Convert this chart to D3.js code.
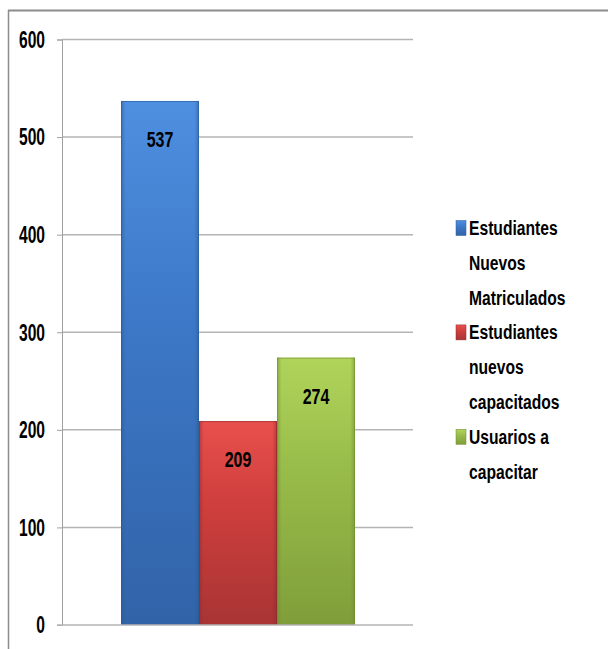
<!DOCTYPE html>
<html><head><meta charset="utf-8">
<script src="https://cdn.jsdelivr.net/npm/d3@7"></script>
<style>body{margin:0;background:#fff}svg{display:block}</style>
</head><body>
<svg id="c" width="608" height="649"></svg>
<script>
const categories = ["Estudiantes Nuevos Matriculados","Estudiantes nuevos capacitados","Usuarios a capacitar"];
const legendLines = [["Estudiantes","Nuevos","Matriculados"],["Estudiantes","nuevos","capacitados"],["Usuarios a","capacitar"]];
const values = [537,209,274];
const yTicks = [0,100,200,300,400,500,600];
const colors = [
  {top:"#4f8fe0", mid:"#3d79c8", bot:"#3163a8", edge:"#2c5a96"},
  {top:"#e8504d", mid:"#cf3f3d", bot:"#a83434", edge:"#8e2c2c"},
  {top:"#b0d45a", mid:"#99bd4a", bot:"#7f9e3a", edge:"#6f8a33"}
];
const svg = d3.select("#c");
const FONT = "'Liberation Sans',Arial,sans-serif";
const defs = svg.append("defs");
colors.forEach((c,i)=>{
  const g = defs.append("linearGradient").attr("id","g"+i).attr("x1",0).attr("y1",0).attr("x2",0).attr("y2",1);
  g.append("stop").attr("offset","0%").attr("stop-color",c.top);
  g.append("stop").attr("offset","40%").attr("stop-color",c.mid);
  g.append("stop").attr("offset","100%").attr("stop-color",c.bot);
  const h = defs.append("linearGradient").attr("id","h"+i).attr("x1",0).attr("y1",0).attr("x2",1).attr("y2",0);
  h.append("stop").attr("offset","0%").attr("stop-color",c.edge).attr("stop-opacity",0.55);
  h.append("stop").attr("offset","6%").attr("stop-color",c.edge).attr("stop-opacity",0);
  h.append("stop").attr("offset","94%").attr("stop-color",c.edge).attr("stop-opacity",0);
  h.append("stop").attr("offset","100%").attr("stop-color",c.edge).attr("stop-opacity",0.55);
});
// frame
svg.append("line").attr("x1",8).attr("x2",608).attr("y1",10.5).attr("y2",10.5).attr("stroke","#8c8c8c").attr("stroke-width",2);
svg.append("line").attr("x1",8.5).attr("x2",8.5).attr("y1",10).attr("y2",649).attr("stroke","#8c8c8c").attr("stroke-width",1.5);

const y = d3.scaleLinear().domain([0,600]).range([625,39.5]);
const x = d3.scaleBand().domain(categories).range([121,355]).paddingInner(0);
const plotL = 62, plotR = 413;

// gridlines
svg.append("g").selectAll("line").data(yTicks.filter(t=>t>0)).join("line")
  .attr("x1",plotL).attr("x2",plotR).attr("y1",d=>y(d)).attr("y2",d=>y(d))
  .attr("stroke","#b4b4b4").attr("stroke-width",1.5);

// axis
const ax = svg.append("g").attr("transform",`translate(${plotL},0)`)
  .call(d3.axisLeft(y).tickValues(yTicks).tickSize(5).tickPadding(10).tickFormat(d3.format("d")));
ax.select(".domain").attr("stroke","#a0a0a0").attr("stroke-width",1);
ax.selectAll(".tick line").attr("stroke","#a0a0a0");
ax.selectAll(".tick text").attr("font-family",FONT).attr("font-size",20).attr("font-weight","bold").attr("fill","#000")
  .attr("x",0).attr("dy",null).attr("text-anchor","end")
  .attr("transform","translate(-17,7.8) scale(0.78,1.15)");

// bars
const bars = svg.append("g").selectAll("g").data(values).join("g");
bars.append("rect").attr("x",(d,i)=>x(categories[i])).attr("width",x.bandwidth())
  .attr("y",d=>y(d)).attr("height",d=>y(0)-y(d)).attr("fill",(d,i)=>`url(#g${i})`);
bars.append("rect").attr("x",(d,i)=>x(categories[i])).attr("width",x.bandwidth())
  .attr("y",d=>y(d)).attr("height",d=>y(0)-y(d)).attr("fill",(d,i)=>`url(#h${i})`);
bars.append("rect").attr("x",(d,i)=>x(categories[i])+0.5).attr("width",x.bandwidth()-1)
  .attr("y",d=>y(d)+0.5).attr("height",d=>y(0)-y(d)-1).attr("fill","none")
  .attr("stroke",(d,i)=>colors[i].edge).attr("stroke-opacity",0.6);
// baseline
svg.append("line").attr("x1",57).attr("x2",plotR).attr("y1",y(0)).attr("y2",y(0)).attr("stroke","#b4b4b4").attr("stroke-width",1.5);

// value labels
bars.append("text")
  .attr("transform",(d,i)=>`translate(${x(categories[i])+x.bandwidth()/2},${y(d)+46}) scale(0.8,1.14)`)
  .attr("text-anchor","middle").attr("font-family",FONT).attr("font-size",20).attr("font-weight","bold").attr("fill","#000")
  .text(d=>d);

// legend
const lg = svg.append("g");
let k = 0;
const ly = n => 235 + n*34.8;
legendLines.forEach((lines,i)=>{
  const gi = lg.append("g");
  gi.append("rect").attr("x",456).attr("y",ly(k)-14.5).attr("width",10).attr("height",15).attr("fill",`url(#g${i})`).attr("stroke",colors[i].edge).attr("stroke-width",0.5);
  lines.forEach((t,j)=>{
    gi.append("text").attr("transform",`translate(469,${ly(k+j)}) scale(0.87,1.08)`)
      .attr("font-family",FONT).attr("font-size",18).attr("font-weight","bold").attr("fill","#000").text(t);
  });
  k += lines.length;
});
</script>
</body></html>
